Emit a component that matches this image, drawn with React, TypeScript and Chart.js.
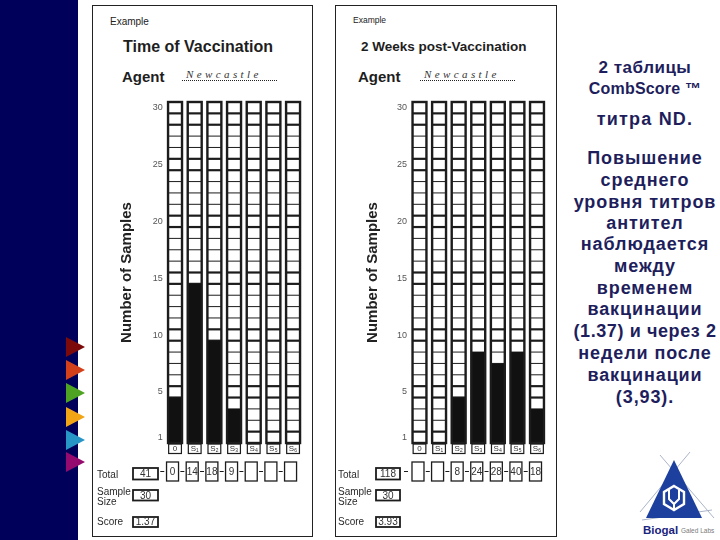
import React, { useEffect, useRef } from "react";
import { Chart, registerables } from "chart.js";

Chart.register(...registerables);

// ---------- data ----------
const columnLabels = ["0", "S₁", "S₂", "S₃", "S₄", "S₅", "S₆"];
const vaccinationCounts = [4, 14, 9, 3, 0, 0, 0];
const postVaccinationCounts = [0, 0, 4, 8, 7, 8, 3];
const yTickLabels = [1, 5, 10, 15, 20, 25, 30];
const sampleSize = 30;
const maxSamples = 30;

const noteLines = [
  "2 таблицы",
  "CombScore ™",
  "титра ND.",
  "Повышение",
  "среднего",
  "уровня титров",
  "антител",
  "наблюдается",
  "между",
  "временем",
  "вакцинации",
  "(1.37) и через 2",
  "недели после",
  "вакцинации",
  "(3,93).",
];

// ---------- layout / styles ----------
const SANS = "'Liberation Sans', Arial, Helvetica, sans-serif";
const SERIF = "'Liberation Serif', 'DejaVu Serif', serif";
const INK = "#1c1c1c";
const NAVY_TEXT = "#1e1e5c";
const noteY = [67, 89, 119, 158, 180, 202, 223, 244, 266, 288, 309, 331, 353, 375, 397];
const noteSize = [17, 16, 18, 18, 18, 18, 18, 18, 18, 18, 18, 18, 18, 18, 18];
const noteSpacing = [0.5, 0.2, 1.2, 0.9, 0.9, 0.9, 0.9, 0.9, 0.9, 0.9, 0.9, 0.6, 0.9, 0.9, 0.9];
const thickRows = [1, 4, 5, 9, 10, 14, 15, 19, 20, 24, 25, 28, 29];
const triangleColors = ["#7c0a0a", "#d3401a", "#4ea323", "#f0a416", "#2796c6", "#940a6e"];
const triangleY = [347, 370, 393, 417, 440, 462];

type Geom = {
  ox: number;
  width: number;
  chartLeft: number;
  chartRight: number;
  axisWidth: number;
  titlePad: number;
  tickPad: number;
  labelX: number;
  boxL: number;
  boxR: number;
  productShift: number;
  productW: number;
};

const leftGeom: Geom = {
  ox: 90, width: 226, chartLeft: 165.2, chartRight: 302.9, axisWidth: 48, titlePad: 0.8,
  tickPad: 2.4, labelX: 97, boxL: 133, boxR: 158, productShift: -2.5, productW: 12,
};
const rightGeom: Geom = {
  ox: 333, width: 227, chartLeft: 409.7, chartRight: 546.8, axisWidth: 48, titlePad: 2.3,
  tickPad: 2.7, labelX: 338, boxL: 376, boxR: 400, productShift: -1.5, productW: 12,
};

const CHART_TOP = 102;
const CHART_BOTTOM = 443;

function makePlugin(g: Geom, counts: number[]) {
  return {
    id: "combscore",
    beforeDatasetsDraw(chart: any) {
      const { ctx } = chart;
      const xs = chart.scales.x;
      const ys = chart.scales.y;
      const pitch = xs.getPixelForValue(1) - xs.getPixelForValue(0);
      const half = pitch * 0.355;
      ctx.save();
      ctx.strokeStyle = INK;
      for (let i = 0; i < chart.data.labels.length; i++) {
        const cx = xs.getPixelForValue(i);
        for (let k = 1; k < maxSamples; k++) {
          const yy = ys.getPixelForValue(k);
          ctx.lineWidth = thickRows.includes(k) ? 2.2 : 1;
          ctx.beginPath();
          ctx.moveTo(cx - half, yy);
          ctx.lineTo(cx + half, yy);
          ctx.stroke();
        }
      }
      ctx.restore();
    },
    afterDatasetsDraw(chart: any) {
      const { ctx } = chart;
      const xs = chart.scales.x;
      const ys = chart.scales.y;
      const pitch = xs.getPixelForValue(1) - xs.getPixelForValue(0);
      const half = pitch * 0.355;
      const top = ys.getPixelForValue(maxSamples);
      const bottom = ys.getPixelForValue(0);
      const labels: string[] = chart.data.labels;
      ctx.save();
      ctx.strokeStyle = INK;
      ctx.fillStyle = "#333";
      ctx.textAlign = "center";
      ctx.textBaseline = "middle";
      labels.forEach((lab, i) => {
        const cx = xs.getPixelForValue(i);
        ctx.lineWidth = 2.4;
        ctx.strokeRect(cx - half, top, half * 2, bottom - top);
        ctx.lineWidth = 1.2;
        ctx.strokeRect(cx - half + 0.6, bottom + 1, half * 2 - 1.2, 9.5);
        ctx.font = `8px ${SANS}`;
        ctx.fillText(lab, cx, bottom + 6.2);
      });

      // totals row
      const o = g.ox;
      const rowTop = 462;
      const rowH = 19;
      const midY = 471.5;
      const products = counts.map((c, i) => (c > 0 ? c * i : null));
      const total = products.reduce((s: number, p) => s + (p ?? 0), 0);
      const score = (total / sampleSize).toFixed(2);
      let prevRight = g.boxR - o;
      ctx.font = `10px ${SANS}`;
      products.forEach((p, i) => {
        const cx = xs.getPixelForValue(i) + g.productShift;
        const l = cx - g.productW / 2;
        const mid = (prevRight + l) / 2;
        ctx.lineWidth = 1;
        ctx.beginPath();
        ctx.moveTo(mid - 2, midY);
        ctx.lineTo(mid + 2, midY);
        ctx.stroke();
        ctx.lineWidth = 1.3;
        ctx.strokeRect(l, rowTop, g.productW, rowH);
        if (p !== null) ctx.fillText(String(p), cx, rowTop + rowH / 2 + 0.5);
        prevRight = l + g.productW;
      });

      const bl = g.boxL - o;
      const bw = g.boxR - g.boxL;
      const boxes: [number, number, string][] = [
        [468, 11.5, String(total)],
        [490, 10.5, String(sampleSize)],
        [517, 10, score],
      ];
      boxes.forEach(([y0, h, txt]) => {
        ctx.lineWidth = 1.8;
        ctx.strokeRect(bl, y0, bw, h);
        ctx.fillText(txt, bl + bw / 2, y0 + h / 2 + 0.5);
      });

      ctx.textAlign = "left";
      ctx.fillStyle = "#2a2a2a";
      const lx = g.labelX - o;
      ctx.fillText("Total", lx, 475);
      ctx.fillText("Sample", lx, 492);
      ctx.fillText("Size", lx, 502);
      ctx.fillText("Score", lx, 522);
      ctx.restore();
    },
  };
}

function CombChart({ g, counts }: { g: Geom; counts: number[] }) {
  const ref = useRef<HTMLCanvasElement | null>(null);
  useEffect(() => {
    if (!ref.current) return;
    const height = 540;
    const chart = new Chart(ref.current, {
      type: "bar",
      data: {
        labels: columnLabels,
        datasets: [
          {
            data: counts,
            backgroundColor: "#111111",
            borderWidth: 0,
            barPercentage: 0.71,
            categoryPercentage: 1,
          },
        ],
      },
      options: {
        responsive: false,
        maintainAspectRatio: false,
        animation: false,
        events: [],
        layout: {
          padding: {
            left: g.chartLeft - g.ox - g.axisWidth,
            right: g.ox + g.width - g.chartRight,
            top: CHART_TOP,
            bottom: height - CHART_BOTTOM,
          },
        },
        plugins: { legend: { display: false }, tooltip: { enabled: false } },
        scales: {
          x: { type: "category", display: false, offset: true, grid: { display: false } },
          y: {
            type: "linear",
            min: 0,
            max: maxSamples,
            position: "left",
            afterFit: (s: any) => {
              s.width = g.axisWidth;
            },
            afterBuildTicks: (s: any) => {
              s.ticks = yTickLabels.map((v) => ({ value: v - 0.5 }));
            },
            ticks: {
              callback: (v: any) => String(Math.round(Number(v) + 0.5)),
              font: { family: SANS, size: 9 },
              color: "#555",
              padding: g.tickPad,
            },
            grid: { display: false, drawTicks: false },
            border: { display: false },
            title: {
              display: true,
              text: "Number of Samples",
              font: { family: SANS, size: 15, weight: "bold" },
              color: "#222",
              padding: { top: g.titlePad, bottom: 0 },
            },
          },
        },
      } as any,
      plugins: [makePlugin(g, counts)],
    });
    return () => chart.destroy();
  }, [g, counts]);
  return (
    <canvas
      ref={ref}
      width={g.width}
      height={540}
      style={{ position: "absolute", left: g.ox, top: 0, width: g.width, height: 540 }}
    />
  );
}

const abs = (left: number, cy: number, extra: React.CSSProperties = {}): React.CSSProperties => ({
  position: "absolute",
  left,
  top: cy,
  transform: "translateY(-50%)",
  whiteSpace: "nowrap",
  lineHeight: 1,
  ...extra,
});

function Header({
  example, exampleSize, exampleY, title, titleX, titleSize, agentX, ncX, dotL, dotW,
}: {
  example: number; exampleSize: number; exampleY: number; title: string; titleX: number;
  titleSize: number; agentX: number; ncX: number; dotL: number; dotW: number;
}) {
  return (
    <>
      <div style={abs(example, exampleY, { fontFamily: SANS, fontSize: exampleSize, color: "#222" })}>Example</div>
      <div style={abs(titleX, 47, { fontFamily: SANS, fontSize: titleSize, fontWeight: "bold", color: "#1e1e1e" })}>
        {title}
      </div>
      <div style={abs(agentX, 76, { fontFamily: SANS, fontSize: 15, fontWeight: "bold", color: "#1e1e1e" })}>Agent</div>
      <div
        style={abs(ncX, 74, {
          fontFamily: SERIF,
          fontStyle: "italic",
          fontSize: 11,
          letterSpacing: 3.4,
          color: "#333",
        })}
      >
        Newcastle
      </div>
      <div
        style={{
          position: "absolute",
          left: dotL,
          top: 80,
          width: dotW,
          height: 0,
          borderTop: "1.6px dotted #222",
        }}
      />
    </>
  );
}

export default function App() {
  return (
    <div
      style={{
        position: "absolute",
        left: 0,
        top: 0,
        width: 720,
        height: 540,
        overflow: "hidden",
        background: "#ffffff",
      }}
    >
      <div style={{ position: "absolute", left: 0, top: 0, width: 78, height: 540, background: "#00005a" }} />
      <svg width={720} height={540} style={{ position: "absolute", left: 0, top: 0 }}>
        {triangleY.map((cy, i) => (
          <polygon key={i} points={`66,${cy - 10} 85,${cy} 66,${cy + 10}`} fill={triangleColors[i]} />
        ))}
        {/* logo */}
        <line x1={660} y1={455} x2={714} y2={518} stroke="#aab4c8" strokeWidth={1} />
        <line x1={640} y1={512} x2={690} y2={452} stroke="#aab4c8" strokeWidth={1} />
        <line x1={642} y1={520} x2={712} y2={510} stroke="#aab4c8" strokeWidth={1} />
        <polygon points="674,460 646,518 702,518" fill="#1d3f9e" />
        <polygon
          points="674,486 684,492 684,504 674,510 664,504 664,492"
          fill="none"
          stroke="#ffffff"
          strokeWidth={2.4}
        />
        <path d="M669,490 L669,499 L674,504 L679,499 L679,490" fill="none" stroke="#ffffff" strokeWidth={2} />
        <line x1={674} y1={504} x2={674} y2={510} stroke="#ffffff" strokeWidth={2} />
        <text x={643} y={534} fontFamily={SANS} fontWeight="bold" fontSize={11.5} fill="#1a237e">
          Biogal
        </text>
        <text x={681} y={533} fontFamily={SANS} fontSize={6.5} fill="#7a7a7a">
          Galed Labs
        </text>
      </svg>

      {/* panel frames */}
      <div
        style={{
          position: "absolute",
          left: 92,
          top: 5,
          width: 221,
          height: 532,
          border: "1.5px solid #222",
          boxSizing: "border-box",
        }}
      />
      <div
        style={{
          position: "absolute",
          left: 335,
          top: 5,
          width: 222,
          height: 532,
          border: "1.5px solid #222",
          boxSizing: "border-box",
        }}
      />

      <Header
        example={110}
        exampleSize={10}
        exampleY={22}
        title="Time of Vaccination"
        titleX={123}
        titleSize={16}
        agentX={122}
        ncX={186}
        dotL={182}
        dotW={95}
      />
      <Header
        example={353}
        exampleSize={8.5}
        exampleY={20}
        title="2 Weeks post-Vaccination"
        titleX={361}
        titleSize={13.5}
        agentX={358}
        ncX={424}
        dotL={420}
        dotW={95}
      />

      <CombChart g={leftGeom} counts={vaccinationCounts} />
      <CombChart g={rightGeom} counts={postVaccinationCounts} />

      {noteLines.map((t, i) => (
        <div
          key={i}
          style={{
            position: "absolute",
            left: 645,
            top: noteY[i],
            transform: "translate(-50%, -50%)",
            whiteSpace: "nowrap",
            lineHeight: 1,
            fontFamily: SANS,
            fontWeight: "bold",
            fontSize: noteSize[i],
            letterSpacing: noteSpacing[i],
            color: NAVY_TEXT,
          }}
        >
          {t}
        </div>
      ))}
    </div>
  );
}
